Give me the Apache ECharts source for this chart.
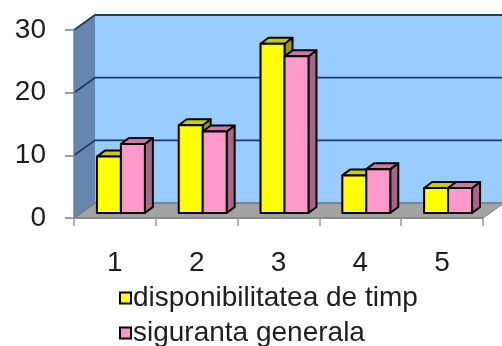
<!DOCTYPE html>
<html>
<head>
<meta charset="utf-8">
<script src="https://cdn.jsdelivr.net/npm/echarts@6/dist/echarts.min.js"></script>
<style>
html, body { margin: 0; padding: 0; background: #fff; }
#chart { width: 502px; height: 346px; }
</style>
</head>
<body>
<div id="chart"></div>
<script>
// Data
const categories = ['1', '2', '3', '4', '5'];
const seriesNames = ['disponibilitatea de timp', 'siguranta generala'];
const disponibilitate = [9, 14, 27, 6, 4];
const siguranta = [11, 13, 25, 7, 4];
const yTicks = [0, 10, 20, 30];

// 3D look: oblique depth of the walls and of the columns (px)
const WALL_DX = 21, WALL_DY = -15;
const BAR_OFF_X = 6, BAR_OFF_Y = -5;     // front face set back from the floor edge
const BAR_DX = 8, BAR_DY = -6;           // column depth
const BAR_BAND = 0.293;                  // column width as share of category band

const FONT = '"Liberation Sans", Arial, sans-serif';
const TEXT = '#1e1e1e';

const palettes = [
  { front: '#ffff00', top: '#cccc00', side: '#9c9c00' },
  { front: '#ff99cc', top: '#cc7aa3', side: '#a8648a' }
];

function wallsRender(params, api) {
  const cs = params.coordSys;
  const x = cs.x, y = cs.y, w = cs.width, h = cs.height;
  const children = [
    { type: 'polygon', shape: { points: [[x, y], [x + WALL_DX, y + WALL_DY], [x + WALL_DX, y + h + WALL_DY], [x, y + h]] },
      style: { fill: '#6687ad' } },
    { type: 'rect', shape: { x: x + WALL_DX, y: y + WALL_DY, width: w, height: h },
      style: { fill: '#99ccff' } },
    { type: 'polygon', shape: { points: [[x, y + h], [x + WALL_DX, y + h + WALL_DY], [x + w + WALL_DX, y + h + WALL_DY], [x + w, y + h]] },
      style: { fill: '#a3a3a3', stroke: '#7a7a7a', lineWidth: 1 } }
  ];
  yTicks.forEach(function (v) {
    const yv = api.coord([0, v])[1];
    children.push({
      type: 'polyline',
      shape: { points: [[x, yv], [x + WALL_DX, yv + WALL_DY], [x + w + WALL_DX, yv + WALL_DY]] },
      style: { fill: null, stroke: v === 0 ? '#6f7680' : '#1c3d66', lineWidth: v === 0 ? 1.2 : 1.8 }
    });
  });
  return { type: 'group', children: children };
}

function barRender(seriesIdx) {
  const pal = palettes[seriesIdx];
  return function (params, api) {
    const i = api.value(0);
    const v = api.value(1);
    const base = api.coord([i, 0]);
    const top = api.coord([i, v]);
    const bw = api.size([1, 0])[0] * BAR_BAND;
    const L = base[0] + BAR_OFF_X - bw + seriesIdx * bw;
    const B = base[1] + BAR_OFF_Y;
    const T = top[1] + BAR_OFF_Y;
    const R = L + bw;
    const stroke = { stroke: '#000', lineWidth: 2, lineJoin: 'round' };
    return {
      type: 'group',
      children: [
        { type: 'polygon', shape: { points: [[R, T], [R + BAR_DX, T + BAR_DY], [R + BAR_DX, B + BAR_DY], [R, B]] },
          style: Object.assign({ fill: pal.side }, stroke) },
        { type: 'polygon', shape: { points: [[L, T], [L + BAR_DX, T + BAR_DY], [R + BAR_DX, T + BAR_DY], [R, T]] },
          style: Object.assign({ fill: pal.top }, stroke) },
        { type: 'rect', shape: { x: L, y: T, width: bw, height: B - T },
          style: Object.assign({ fill: pal.front }, stroke) }
      ]
    };
  };
}

const chart = echarts.init(document.getElementById('chart'), null, { renderer: 'canvas' });

chart.setOption({
  animation: false,
  backgroundColor: '#ffffff',
  grid: { left: 74, right: 19, top: 30, bottom: 128 },
  xAxis: {
    type: 'category',
    data: categories,
    z: 10,
    axisLine: { lineStyle: { color: '#808080', width: 1.5 } },
    axisTick: { show: true, length: 8, lineStyle: { color: '#9a9a9a', width: 1.5 } },
    axisLabel: { fontSize: 28, fontFamily: FONT, color: TEXT, margin: 31 }
  },
  yAxis: {
    type: 'value',
    min: 0, max: 30, interval: 10,
    z: 10,
    axisLine: { show: true, lineStyle: { color: '#808080', width: 1.5 } },
    axisTick: { show: true, length: 9, lineStyle: { color: '#808080', width: 1.5 } },
    axisLabel: { fontSize: 28, fontFamily: FONT, color: TEXT, margin: 28 },
    splitLine: { show: false }
  },
  legend: {
    orient: 'vertical',
    left: 119, top: 284,
    width: 400, height: 120,
    padding: 0,
    icon: 'rect',
    itemWidth: 11, itemHeight: 11, itemGap: 7,
    itemStyle: { borderColor: '#000', borderWidth: 2 },
    textStyle: { fontSize: 28, fontFamily: FONT, color: TEXT, lineHeight: 28, padding: [0, 0, 0, -3] },
    data: seriesNames
  },
  series: [
    {
      type: 'custom',
      name: 'walls',
      z: 1,
      silent: true,
      renderItem: wallsRender,
      data: [[0, 0]]
    },
    {
      type: 'custom',
      name: seriesNames[0],
      z: 3,
      itemStyle: { color: palettes[0].front, borderColor: '#000', borderWidth: 2 },
      renderItem: barRender(0),
      data: disponibilitate.map(function (v, i) { return [i, v]; })
    },
    {
      type: 'custom',
      name: seriesNames[1],
      z: 4,
      itemStyle: { color: palettes[1].front, borderColor: '#000', borderWidth: 2 },
      renderItem: barRender(1),
      data: siguranta.map(function (v, i) { return [i, v]; })
    }
  ]
});
</script>
</body>
</html>
